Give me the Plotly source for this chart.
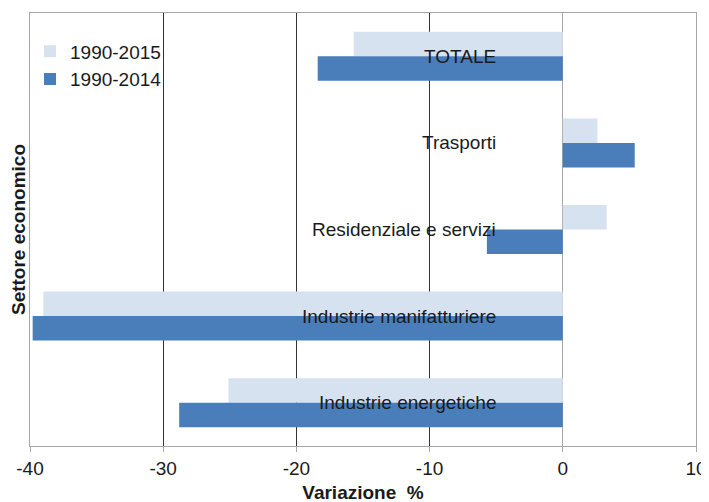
import plotly.graph_objects as go

categories = ["TOTALE", "Trasporti", "Residenziale e servizi",
              "Industrie manifatturiere", "Industrie energetiche"]
values_1990_2015 = [-15.7, 2.6, 3.3, -39.0, -25.1]
values_1990_2014 = [-18.4, 5.4, -5.7, -39.8, -28.8]
x_ticks = [-40, -30, -20, -10, 0, 10]
label_x = -4.9

FONT = "Liberation Sans, Arial, sans-serif"
LIGHT = "#D7E2F1"
DARK = "#4A7EBB"
GREY = "#A6A6A6"
FS = 19

fig = go.Figure()
fig.add_trace(go.Bar(y=categories, x=values_1990_2015, orientation="h",
                     name="1990-2015", marker=dict(color=LIGHT, line=dict(width=0))))
fig.add_trace(go.Bar(y=categories, x=values_1990_2014, orientation="h",
                     name="1990-2014", marker=dict(color=DARK, line=dict(width=0))))

for c in categories:
    fig.add_annotation(x=label_x, y=c, xref="x", yref="y", text=c, showarrow=False,
                       xanchor="right", yanchor="middle",
                       font=dict(family=FONT, size=FS, color="#1a1a1a"))

fig.update_layout(
    width=709, height=502,
    margin=dict(l=21.5, r=21, t=5, b=64, autoexpand=False),
    paper_bgcolor="white", plot_bgcolor="white",
    barmode="group", bargap=0.434, bargroupgap=0,
    font=dict(family=FONT, size=FS, color="#1a1a1a"),
    showlegend=True,
    legend=dict(x=0.0, y=0.955, xanchor="left", yanchor="top",
                bgcolor="rgba(0,0,0,0)", font=dict(size=FS, family=FONT),
                traceorder="normal", itemwidth=30),
    xaxis=dict(range=[-40, 10], tickvals=x_ticks, ticktext=[str(v) for v in x_ticks],
               automargin=False,
               showgrid=True, gridcolor="#333333", gridwidth=1,
               zeroline=True, zerolinecolor=GREY, zerolinewidth=1,
               showline=True, linecolor=GREY, linewidth=1, mirror=True,
               ticks="outside", ticklen=5, tickcolor=GREY,
               tickfont=dict(size=FS, family=FONT),
               title=dict(text="<b>Variazione  %</b>", standoff=7,
                          font=dict(size=FS, family=FONT))),
    yaxis=dict(autorange="reversed", showticklabels=False, ticks="",
               automargin=False,
               showgrid=False, zeroline=False,
               showline=True, linecolor=GREY, linewidth=1, mirror=True,
               title=dict(text="<b>Settore economico</b>", standoff=0,
                          font=dict(size=FS, family=FONT))),
)

fig.write_html("out.html")
